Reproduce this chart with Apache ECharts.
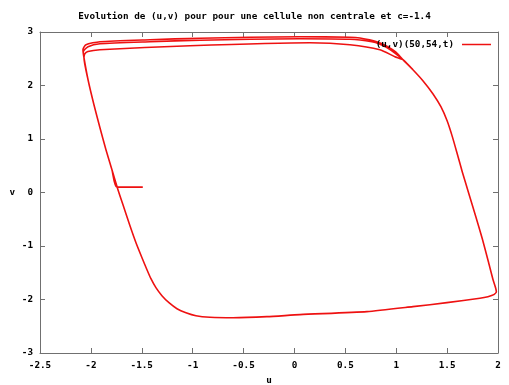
<!DOCTYPE html>
<html>
<head>
<meta charset="utf-8">
<script src="https://cdn.jsdelivr.net/npm/echarts@6/dist/echarts.min.js"></script>
<style>html,body{margin:0;padding:0;background:#fff}#c{width:509px;height:385px}</style>
</head>
<body>
<div id="c"></div>
<script>
const chartTitle = 'Evolution de (u,v) pour pour une cellule non centrale et c=-1.4';
const seriesName = '(u,v)(50,54,t)';
const xName = 'u';
const yName = 'v';
const xMin = -2.5, xMax = 2, xStep = 0.5;
const yMin = -3, yMax = 3, yStep = 1;

// initial condition and fast horizontal jump to the left branch
const startPath = [[-1.49, 0.10], [-1.745, 0.10]];
// left branch (going up), from bottom
const leftBranch = [[-1.449, -1.443], [-1.498, -1.219], [-1.557, -0.939], [-1.616, -0.621],
  [-1.675, -0.284], [-1.734, 0.052], [-1.793, 0.426], [-1.852, 0.800], [-1.911, 1.211],
  [-1.970, 1.641], [-2.028, 2.108], [-2.068, 2.520]];
// first (transient) lap: inner top
const innerTop = [[-2.060, 2.590], [-2.030, 2.635], [-1.911, 2.669], [-1.027, 2.744], [0.152, 2.800],
  [0.545, 2.763], [0.840, 2.669], [0.987, 2.538]];
// second lap top
const outerTopB = [[-2.075, 2.631], [-2.028, 2.725], [-1.911, 2.781], [-1.419, 2.819], [-0.928, 2.847],
  [0.054, 2.875], [0.545, 2.865], [0.761, 2.819], [0.840, 2.772], [0.908, 2.707], [0.987, 2.604]];
// limit-cycle top
const outerTopA = [[-2.078, 2.669], [-2.048, 2.763], [-1.911, 2.819], [-1.419, 2.856], [-0.928, 2.884],
  [0.054, 2.912], [0.545, 2.903], [0.643, 2.888], [0.810, 2.819], [0.908, 2.735], [0.997, 2.622]];
// right branch (going down) and bottom (going left)
const rightBottom = [[1.066, 2.482], [1.164, 2.295], [1.262, 2.090], [1.360, 1.847], [1.439, 1.604],
  [1.500, 1.340], [1.552, 1.040], [1.600, 0.720], [1.650, 0.380], [1.710, 0.000], [1.780, -0.440],
  [1.845, -0.860], [1.905, -1.290], [1.950, -1.620], [1.976, -1.779], [1.984, -1.854], [1.959, -1.910],
  [1.901, -1.947], [1.822, -1.976], [1.498, -2.059], [1.164, -2.134], [0.712, -2.227], [0.054, -2.283],
  [-0.270, -2.321], [-0.604, -2.340], [-0.830, -2.331], [-0.968, -2.303], [-1.066, -2.247],
  [-1.154, -2.172], [-1.233, -2.060], [-1.302, -1.929], [-1.361, -1.779], [-1.410, -1.611]];

const trajectory = [].concat(
  startPath, leftBranch.slice(6), innerTop, rightBottom,
  leftBranch, outerTopB, rightBottom,
  leftBranch, outerTopA, rightBottom,
  leftBranch, outerTopA, rightBottom.slice(0, 2)
);

const mono = '"DejaVu Sans Mono", monospace';
const chart = echarts.init(document.getElementById('c'), null, {renderer: 'canvas'});
const axisGray = '#707070';
const txt = {fontFamily: mono, fontSize: 9.3, fontWeight: 'bold', color: '#000'};
const lineOpt = {show: true, onZero: false, lineStyle: {color: axisGray, width: 1}};
const tickOpt = {show: true, inside: true, length: 5, lineStyle: {color: axisGray}};
chart.setOption({
  animation: false,
  backgroundColor: '#ffffff',
  title: {text: chartTitle, left: 'center', top: 7, textStyle: txt},
  legend: {
    data: [seriesName], right: 13, top: 35, align: 'right', icon: 'rect',
    itemWidth: 29, itemHeight: 1.5, itemGap: 0,
    textStyle: Object.assign({}, txt, {padding: [0, 3, 0, 0]})
  },
  grid: {left: 40, right: 11, top: 32, bottom: 32, outerBoundsMode: 'none', containLabel: false},
  xAxis: [{
    type: 'value', min: xMin, max: xMax, interval: xStep,
    name: xName, nameLocation: 'middle', nameGap: 23, nameTextStyle: txt,
    axisLine: lineOpt, axisTick: tickOpt,
    axisLabel: Object.assign({}, txt, {margin: 8}),
    splitLine: {show: false}
  }, {
    type: 'value', min: xMin, max: xMax, interval: xStep, position: 'top',
    axisLine: lineOpt, axisTick: tickOpt, axisLabel: {show: false}, splitLine: {show: false}
  }],
  yAxis: [{
    type: 'value', min: yMin, max: yMax, interval: yStep,
    name: yName, nameLocation: 'middle', nameGap: 25, nameRotate: 0, nameTextStyle: txt,
    axisLine: lineOpt, axisTick: tickOpt,
    axisLabel: Object.assign({}, txt, {margin: 7}),
    splitLine: {show: false}
  }, {
    type: 'value', min: yMin, max: yMax, interval: yStep, position: 'right',
    axisLine: lineOpt, axisTick: tickOpt, axisLabel: {show: false}, splitLine: {show: false}
  }],
  series: [{
    name: seriesName, type: 'line', data: trajectory,
    showSymbol: false, symbol: 'none', smooth: 0.2,
    lineStyle: {color: '#ee1111', width: 1.6, join: 'round'},
    itemStyle: {color: '#ee1111'}
  }]
});
</script>
</body>
</html>
